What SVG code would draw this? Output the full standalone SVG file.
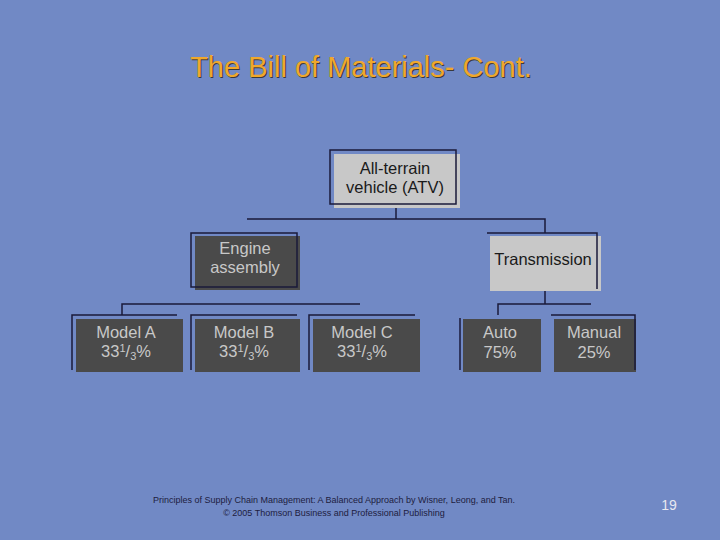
<svg xmlns="http://www.w3.org/2000/svg" width="720" height="540" viewBox="0 0 720 540">
<style>
text{font-family:"Liberation Sans",Arial,sans-serif}
.ln{stroke:#1a1a3a;stroke-width:1.5;fill:none}
.lt{fill:#c8c8c8}
.dk{fill:#4a4a4a}
.tl{fill:#1a1a1a;font-size:16.5px;text-anchor:middle}
.td{fill:#c8c8c8;font-size:16.5px;text-anchor:middle}
.sb{font-size:11px}
</style>
<rect width="720" height="540" fill="#7189c5"/>
<text x="362" y="78" font-size="29" fill="#3a3a3a" text-anchor="middle">The Bill of Materials- Cont.</text>
<text x="361" y="77" font-size="29" fill="#f0a82c" text-anchor="middle">The Bill of Materials- Cont.</text>
<g id="connectors" class="ln">
<path d="M396 204V219M247 219H545V233"/>
<path d="M122 315V304H360"/>
<path d="M545 291V304M498 315V304H591"/>
</g>
<g id="atv"><rect class="lt" x="334" y="154" width="126" height="54"/><rect class="ln" x="330" y="150" width="126" height="54"/>
<text class="tl" x="395" y="174">All-terrain</text><text class="tl" x="395" y="193">vehicle (ATV)</text></g>
<g id="engine"><rect class="dk" x="195" y="236" width="105" height="54"/><rect class="ln" x="191" y="233" width="106" height="54"/>
<text class="td" x="245" y="254">Engine</text><text class="td" x="245" y="273">assembly</text></g>
<g id="transmission"><rect class="lt" x="490" y="236" width="111" height="55"/><path class="ln" d="M487 233H597V289"/>
<text class="tl" x="543" y="265">Transmission</text></g>
<g id="modelA"><rect class="dk" x="76" y="319" width="107" height="53"/><path class="ln" d="M72 370V315H177"/>
<text class="td" x="126" y="338">Model A</text><text class="td" x="126" y="357">33<tspan class="sb" dy="-5">1</tspan><tspan dy="5">/</tspan><tspan class="sb" dy="3">3</tspan><tspan dy="-3">%</tspan></text></g>
<g id="modelB"><rect class="dk" x="195" y="319" width="105" height="53"/><path class="ln" d="M191 370V315H297"/>
<text class="td" x="244" y="338">Model B</text><text class="td" x="244" y="357">33<tspan class="sb" dy="-5">1</tspan><tspan dy="5">/</tspan><tspan class="sb" dy="3">3</tspan><tspan dy="-3">%</tspan></text></g>
<g id="modelC"><rect class="dk" x="313" y="319" width="107" height="53"/><path class="ln" d="M309 370V315H415"/>
<text class="td" x="362" y="338">Model C</text><text class="td" x="362" y="357">33<tspan class="sb" dy="-5">1</tspan><tspan dy="5">/</tspan><tspan class="sb" dy="3">3</tspan><tspan dy="-3">%</tspan></text></g>
<g id="auto"><rect class="dk" x="463" y="319" width="78" height="53"/><path class="ln" d="M460 370V318"/>
<text class="td" x="500" y="338">Auto</text><text class="td" x="500" y="358">75%</text></g>
<g id="manual"><rect class="dk" x="554" y="319" width="82" height="53"/><path class="ln" d="M551 315H635V370"/>
<text class="td" x="594" y="338">Manual</text><text class="td" x="594" y="358">25%</text></g>
<text x="334" y="503" font-size="9" fill="#202040" text-anchor="middle">Principles of Supply Chain Management: A Balanced Approach by Wisner, Leong, and Tan.</text>
<text x="334" y="516" font-size="9" fill="#202040" text-anchor="middle">© 2005 Thomson Business and Professional Publishing</text>
<text x="669" y="510" font-size="14" fill="#e8e8f0" text-anchor="middle">19</text>
</svg>
